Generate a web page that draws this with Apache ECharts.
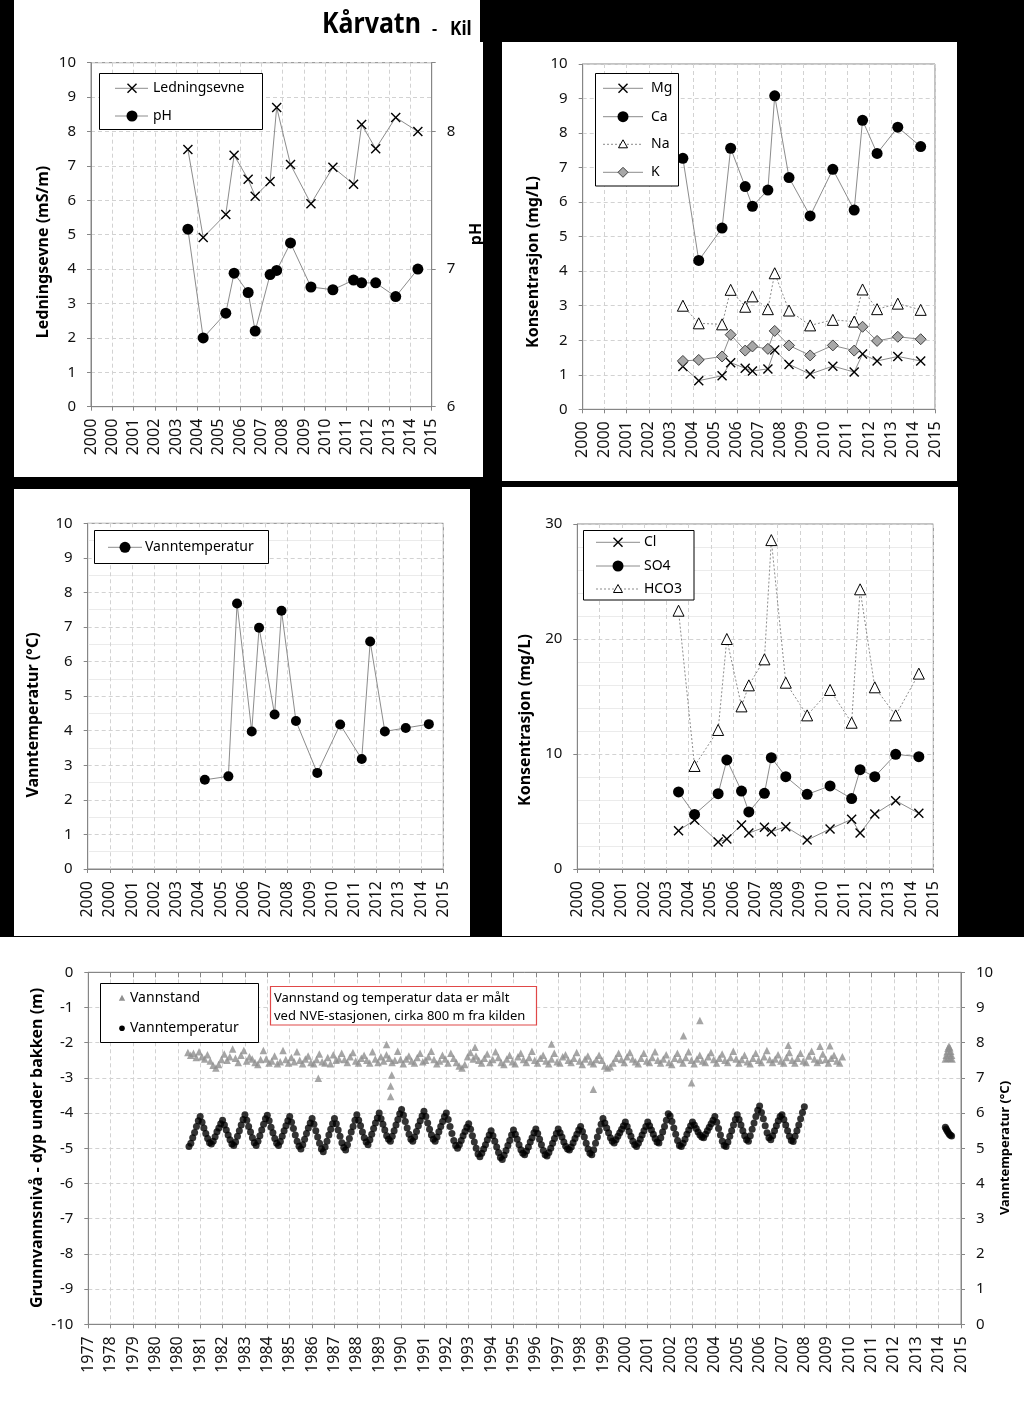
<!DOCTYPE html>
<html><head><meta charset="utf-8">
<script src="https://cdn.jsdelivr.net/npm/echarts@6/dist/echarts.min.js"></script>
<style>html,body{margin:0;padding:0;background:#000;}#c{width:1024px;height:1405px;}</style>
</head><body><div id="c"></div>
<script>
// ---------- tick labels ----------
const smallTicks = ['2000','2000','2001','2002','2003','2004','2005','2006','2007','2008','2009','2010','2011','2012','2013','2014','2015'];
const bigTicks = ['1977','1978','1979','1980','1980','1981','1982','1983','1984','1985','1986','1987','1988','1989','1990','1991','1992','1993','1994','1995','1996','1997','1998','1999','2000','2001','2002','2003','2004','2005','2006','2007','2008','2009','2010','2011','2012','2013','2014','2015'];

// ---------- sample chemistry (shared sampling dates, decimal years) ----------
const sampleDates = [2004.55,2005.27,2006.33,2006.72,2007.38,2007.71,2008.41,2008.72,2009.37,2010.33,2011.36,2012.33,2012.71,2013.37,2014.31,2015.35];
const ledningsevne = [7.48,4.92,5.59,7.31,6.61,6.12,6.55,8.70,7.04,5.90,6.96,6.47,8.20,7.50,8.41,8.00];
const pH = [7.29,6.50,6.68,6.97,6.83,6.55,6.96,6.99,7.19,6.87,6.85,6.92,6.90,6.90,6.80,7.00];
const mg = [1.24,0.83,0.97,1.35,1.19,1.11,1.17,1.72,1.30,1.02,1.25,1.08,1.60,1.40,1.53,1.40];
const ca = [7.27,4.31,5.25,7.56,6.45,5.88,6.35,9.08,6.71,5.60,6.95,5.77,8.37,7.41,8.17,7.61];
const na = [3.00,2.49,2.46,3.46,2.97,3.27,2.90,3.94,2.86,2.43,2.59,2.54,3.47,2.90,3.06,2.88];
const k  = [1.40,1.43,1.53,2.16,1.70,1.82,1.75,2.27,1.85,1.56,1.85,1.70,2.39,1.98,2.10,2.03];
const sampleTemp = [null,2.58,2.68,7.68,3.98,6.98,4.47,7.47,4.28,2.78,4.18,3.18,6.58,3.98,4.08,4.19];
const cl   = [3.33,4.26,2.35,2.61,3.83,3.13,3.62,3.25,3.68,2.52,3.48,4.32,3.13,4.78,5.94,4.84];
const so4  = [6.70,4.75,6.55,9.48,6.78,4.96,6.58,9.68,8.03,6.49,7.22,6.12,8.64,8.03,9.97,9.77];
const hco3 = [22.46,8.96,12.09,20.00,14.14,15.97,18.23,28.60,16.20,13.36,15.57,12.72,24.32,15.80,13.36,16.99];

// ---------- NVE station: groundwater level (m), 8 readings per year from 1981.45 ----------
const levelStart = 1981.45, levelStep = 0.125;
const levelRows = [
 [-2.28,-2.36,-2.30,-2.42,-2.26,-2.40,-2.46,-2.34],
 [-2.52,-2.64,-2.72,-2.62,-2.48,-2.32,-2.50,-2.40],
 [-2.18,-2.44,-2.56,-2.36,-2.22,-2.52,-2.40,-2.46],
 [-2.56,-2.62,-2.48,-2.22,-2.46,-2.58,-2.52,-2.38],
 [-2.60,-2.54,-2.22,-2.48,-2.58,-2.42,-2.54,-2.26],
 [-2.50,-2.60,-2.46,-2.38,-2.56,-2.60,-2.48,-2.32],
 [-2.54,-2.58,-2.42,-2.60,-2.34,-2.50,-2.46,-2.30],
 [-2.48,-2.56,-2.40,-2.28,-2.52,-2.58,-2.44,-2.36],
 [-2.50,-2.58,-2.26,-2.46,-2.56,-2.40,-2.52,-2.34],
 [-2.44,-2.56,-2.50,-2.24,-2.48,-2.60,-2.46,-2.38],
 [-2.52,-2.58,-2.42,-2.30,-2.54,-2.50,-2.40,-2.24],
 [-2.48,-2.60,-2.52,-2.36,-2.46,-2.58,-2.30,-2.44],
 [-2.56,-2.66,-2.72,-2.62,-2.40,-2.28,-2.46,-2.38],
 [-2.50,-2.58,-2.44,-2.32,-2.56,-2.48,-2.26,-2.42],
 [-2.56,-2.62,-2.46,-2.36,-2.54,-2.60,-2.40,-2.30],
 [-2.48,-2.56,-2.42,-2.24,-2.50,-2.58,-2.44,-2.36],
 [-2.52,-2.60,-2.46,-2.30,-2.54,-2.58,-2.40,-2.34],
 [-2.50,-2.56,-2.44,-2.28,-2.52,-2.62,-2.46,-2.38],
 [-2.54,-2.60,-2.48,-2.36,-2.50,-2.66,-2.72,-2.68],
 [-2.58,-2.44,-2.30,-2.48,-2.56,-2.40,-2.28,-2.46],
 [-2.54,-2.60,-2.44,-2.30,-2.52,-2.56,-2.42,-2.26],
 [-2.50,-2.58,-2.46,-2.34,-2.56,-2.62,-2.44,-2.30],
 [-2.48,-2.58,-2.42,-2.26,-2.50,-2.60,-2.46,-2.36],
 [-2.52,-2.56,-2.40,-2.28,-2.48,-2.58,-2.44,-2.32],
 [-2.50,-2.56,-2.42,-2.24,-2.46,-2.58,-2.48,-2.36],
 [-2.54,-2.60,-2.44,-2.30,-2.50,-2.56,-2.40,-2.22],
 [-2.48,-2.56,-2.46,-2.34,-2.52,-2.58,-2.42,-2.28],
 [-2.50,-2.58,-2.44,-2.30,-2.52,-2.56,-2.38,-2.24],
 [-2.46,-2.56,-2.50,-2.32,-2.48,-2.58,-2.44,-2.36],
 [-2.52,-2.58,-2.40]
];
const levelExtra = [[1987.28,-3.01],[1990.33,-2.05],[1990.56,-2.92],[1990.51,-3.23],[1990.51,-3.53],[1994.28,-2.13],[1997.70,-2.04],[1999.57,-3.32],[2003.60,-1.80],[2003.96,-3.14],[2004.33,-1.37],[2008.28,-2.07],[2009.70,-2.10],[2010.14,-2.09],
 [2015.30,-2.46],[2015.34,-2.36],[2015.38,-2.26],[2015.42,-2.16],[2015.46,-2.10],[2015.50,-2.14],[2015.54,-2.24],[2015.58,-2.36],[2015.60,-2.46],[2015.40,-2.44],[2015.48,-2.30],[2015.52,-2.44]];

// ---------- NVE station: water temperature (°C), monthly from 1981.5 ----------
const tempStart = 1981.5, tempStep = 1/12;
const tempRows = [
 [5.05,5.14,5.30,5.45,5.62,5.78,5.90,5.74,5.58,5.42,5.28,5.16],
 [5.12,5.20,5.33,5.47,5.58,5.70,5.80,5.66,5.52,5.38,5.24,5.12],
 [5.08,5.18,5.34,5.50,5.66,5.82,5.95,5.80,5.62,5.46,5.30,5.16],
 [5.08,5.20,5.36,5.52,5.68,5.84,5.94,5.78,5.60,5.44,5.28,5.14],
 [5.08,5.19,5.34,5.50,5.64,5.78,5.90,5.74,5.56,5.38,5.20,5.06],
 [4.98,5.10,5.26,5.42,5.58,5.72,5.85,5.68,5.50,5.32,5.14,4.98],
 [4.90,5.04,5.20,5.38,5.54,5.70,5.85,5.70,5.52,5.34,5.16,5.02],
 [4.95,5.10,5.28,5.46,5.62,5.80,5.95,5.80,5.64,5.46,5.30,5.18],
 [5.10,5.24,5.40,5.56,5.72,5.86,6.00,5.84,5.68,5.52,5.36,5.26],
 [5.20,5.34,5.50,5.66,5.82,5.98,6.10,5.94,5.76,5.58,5.40,5.26],
 [5.20,5.32,5.48,5.64,5.78,5.92,6.05,5.90,5.72,5.54,5.38,5.26],
 [5.20,5.32,5.47,5.62,5.76,5.90,6.00,5.82,5.62,5.42,5.22,5.08],
 [5.00,5.10,5.22,5.36,5.48,5.60,5.70,5.54,5.36,5.18,5.00,4.84],
 [4.76,4.86,4.98,5.10,5.24,5.38,5.50,5.36,5.20,5.04,4.88,4.74],
 [4.68,4.80,4.94,5.08,5.22,5.38,5.52,5.40,5.26,5.10,4.96,4.86],
 [4.82,4.92,5.04,5.18,5.30,5.44,5.55,5.42,5.26,5.10,4.94,4.82],
 [4.78,4.88,5.00,5.14,5.28,5.42,5.55,5.44,5.32,5.18,5.06,4.98],
 [4.95,5.04,5.16,5.28,5.40,5.52,5.62,5.48,5.32,5.14,4.98,4.86],
 [4.82,4.96,5.14,5.32,5.50,5.68,5.85,5.72,5.58,5.44,5.30,5.20],
 [5.15,5.24,5.34,5.44,5.54,5.64,5.75,5.62,5.48,5.34,5.20,5.10],
 [5.05,5.14,5.26,5.38,5.50,5.62,5.75,5.64,5.52,5.40,5.28,5.18],
 [5.15,5.30,5.46,5.62,5.80,5.98,5.92,5.76,5.58,5.40,5.22,5.08],
 [5.05,5.14,5.26,5.40,5.52,5.64,5.75,5.66,5.56,5.46,5.38,5.32],
 [5.30,5.40,5.50,5.60,5.70,5.80,5.90,5.74,5.56,5.38,5.20,5.08],
 [5.05,5.18,5.34,5.50,5.66,5.82,5.95,5.82,5.66,5.50,5.36,5.24],
 [5.20,5.36,5.54,5.72,5.90,6.08,6.20,6.02,5.84,5.64,5.44,5.30],
 [5.24,5.36,5.50,5.64,5.78,5.90,5.95,5.82,5.66,5.50,5.34,5.22],
 [5.19,5.34,5.50,5.66,5.84,6.02,6.18]
];
const tempExtra = [[2015.30,5.60],[2015.34,5.55],[2015.38,5.50],[2015.43,5.45],[2015.48,5.40],[2015.53,5.37],[2015.58,5.35]];

// ---------- build data ----------
function pairs(dates, vals){ const o=[]; vals.forEach((v,i)=>{ if(v!=null) o.push([dates[i], v]); }); return o; }
function series1(start, step, rows){ const flat=[].concat(...rows); return flat.map((v,i)=>[start+i*step, v]); }
const levelData = series1(levelStart, levelStep, levelRows).concat(levelExtra);
const tempData = series1(tempStart, tempStep, tempRows).concat(tempExtra);

const FONT = '"Noto Sans", "Open Sans", sans-serif';
const AX = '#868686';
const gridLine = {show:true, lineStyle:{color:'#d2d2d2', type:[4,3], width:1}};
const minorLine = {show:true, lineStyle:{color:'#ebebeb', width:1}};
const CROSS = 'path://M0,1L1,0L5,4L9,0L10,1L6,5L10,9L9,10L5,6L1,10L0,9L4,5Z';

function xAx(gi, min, max, labels, extra){
  return Object.assign({
    type:'value', gridIndex:gi, min, max, interval:1,
    axisLine:{show:true, onZero:false, lineStyle:{color:AX, width:1}},
    axisTick:{show:true, inside:false, length:4, lineStyle:{color:AX}},
    axisLabel:{show:true, rotate:90, margin:12, fontSize:16, color:'#111', fontFamily:FONT,
      formatter:(v)=>{ const s = labels[Math.round(v-min)]; return s===undefined?'':s; }},
    splitLine:gridLine
  }, extra||{});
}
function yAx(gi, min, max, interval, pos, extra){
  return Object.assign({
    type:'value', gridIndex:gi, min, max, interval, position:pos,
    axisLine:{show:true, onZero:false, lineStyle:{color:AX, width:1}},
    axisTick:{show:true, inside:false, length:4, lineStyle:{color:AX}},
    axisLabel:{show:true, margin:15, fontSize:15, color:'#111', fontFamily:FONT},
    splitLine:gridLine
  }, extra||{});
}
function grid(left, top, width, height){
  return {left, top, width, height, containLabel:false, outerBoundsMode:'none', show:true, borderColor:AX, borderWidth:1, backgroundColor:'transparent'};
}
function lineS(name, xi, yi, data, symbol, size, itemStyle, dashed){
  return {name, type:'line', xAxisIndex:xi, yAxisIndex:yi, data, symbol, symbolSize:size,
    itemStyle, lineStyle:{color:'#8c8c8c', width:1, type: dashed?[2,2]:'solid'},
    silent:true, animation:false, emphasis:{disabled:true}, z:3};
}
const BLACKDOT = {color:'#000', borderWidth:0};
const XS = {color:'#000', borderWidth:0};
const OPENTRI = {color:'#fff', borderColor:'#000', borderWidth:1};
const DIAM = {color:'#a8a8a8', borderColor:'#404040', borderWidth:1};

// ---------- graphic: panels, titles, legends ----------
const G = [];
function rect(x,y,w,h,style,z){ G.push({type:'rect', shape:{x,y,width:w,height:h}, style, z:(z===undefined?-1:z), silent:true}); }
function text(x,y,t,font,opt){ opt=opt||{}; G.push(Object.assign({type:'text', x, y, silent:true, z:5,
  style:{text:t, font, fill:opt.fill||'#000', align:opt.align||'left', verticalAlign:'middle', textAlign:opt.align||'left', textVerticalAlign:'middle'}}, opt.rot?{rotation:opt.rot}:{} , opt.scaleX?{scaleX:opt.scaleX}:{})); }
function vtitle(x,y,t,size){ text(x,y,t,'bold '+size+'px '+FONT,{align:'center', rot:Math.PI/2}); }
function line(x1,y1,x2,y2,stroke,w,dash){ G.push({type:'line', shape:{x1,y1,x2,y2}, style:{stroke, lineWidth:w, lineDash:dash||null}, z:5, silent:true}); }
function mark(kind, cx, cy){
  if(kind==='cross'){ line(cx-4.5,cy-4.5,cx+4.5,cy+4.5,'#000',1.4); line(cx-4.5,cy+4.5,cx+4.5,cy-4.5,'#000',1.4); }
  else if(kind==='dot'){ G.push({type:'circle', shape:{cx,cy,r:5.5}, style:{fill:'#000'}, z:6, silent:true}); }
  else if(kind==='smalldot'){ G.push({type:'circle', shape:{cx,cy,r:2.8}, style:{fill:'#000'}, z:6, silent:true}); }
  else if(kind==='tri'){ G.push({type:'polygon', shape:{points:[[cx,cy-4.5],[cx+4.5,cy+3.5],[cx-4.5,cy+3.5]]}, style:{fill:'#fff', stroke:'#000', lineWidth:1}, z:6, silent:true}); }
  else if(kind==='graytri'){ G.push({type:'polygon', shape:{points:[[cx,cy-3.5],[cx+3.2,cy+2.5],[cx-3.2,cy+2.5]]}, style:{fill:'#909090'}, z:6, silent:true}); }
  else if(kind==='diamond'){ G.push({type:'polygon', shape:{points:[[cx,cy-5],[cx+5,cy],[cx,cy+5],[cx-5,cy]]}, style:{fill:'#a8a8a8', stroke:'#404040', lineWidth:1}, z:6, silent:true}); }
}
function legend(box, items, lx1, lx2, sx, tx, fs){
  rect(box[0], box[1], box[2], box[3], {fill:'#fff', stroke:'#000', lineWidth:1}, 4);
  items.forEach(it=>{
    if(lx1!==null) line(lx1, it.y, lx2, it.y, '#8c8c8c', 1, it.dash?[2,2]:null);
    mark(it.kind, sx, it.y);
    text(tx, it.y, it.name, fs+'px '+FONT);
  });
}

// white panels on black page
rect(14,0,469,477,{fill:'#fff'});
rect(480,0,544,42,{fill:'#000'},0);
rect(502,42,455,439,{fill:'#fff'});
rect(14,489,456,447,{fill:'#fff'});
rect(502,487,456,449,{fill:'#fff'});
rect(0,937,1024,468,{fill:'#fff'});

// title
text(322,25,'Kårvatn','bold 29px '+FONT,{scaleX:0.86});
text(432,29,'-','bold 16px '+FONT);
text(450,29,'Kil','bold 20px '+FONT,{scaleX:0.86});

// axis titles
vtitle(43,252,'Ledningsevne (mS/m)',16);
vtitle(476,234,'pH',16);
vtitle(533,262,'Konsentrasjon (mg/L)',16);
vtitle(33,715,'Vanntemperatur (°C)',16);
vtitle(525,720,'Konsentrasjon (mg/L)',16);
vtitle(37,1148,'Grunnvannsnivå - dyp under bakken (m)',16);
vtitle(1005,1148,'Vanntemperatur (°C)',13);

// legends
legend([99.5,73.5,163,56],[{y:88.3,kind:'cross',name:'Ledningsevne'},{y:116,kind:'dot',name:'pH'}],115,148,132,153,14);
legend([595.5,73.5,83,112.5],[{y:88.3,kind:'cross',name:'Mg'},{y:116.7,kind:'dot',name:'Ca'},{y:144.3,kind:'tri',name:'Na',dash:true},{y:172.3,kind:'diamond',name:'K'}],603,643,623,651,14);
legend([94.5,530.5,174,33],[{y:547.3,kind:'dot',name:'Vanntemperatur'}],108,142,125,145,14);
legend([583.5,530.5,110.5,69.5],[{y:542.3,kind:'cross',name:'Cl'},{y:566,kind:'dot',name:'SO4'},{y:589,kind:'tri',name:'HCO3',dash:true}],596,640,618,644,14);
legend([100.5,983.5,158,59],[{y:998.3,kind:'graytri',name:'Vannstand'},{y:1028.3,kind:'smalldot',name:'Vanntemperatur'}],null,null,122,130,14);

// annotation box
rect(270.5,986.5,266,38.5,{fill:'#fff', stroke:'#e04848', lineWidth:1.2},4);
text(274,998.5,'Vannstand og temperatur data er målt','13px '+FONT);
text(274,1016.5,'ved NVE-stasjonen, cirka 800 m fra kilden','13px '+FONT);

const option = {
  backgroundColor:'transparent',
  animation:false,
  textStyle:{fontFamily:FONT},
  grid:[
    grid(91,62.7,340.7,344),
    grid(582.7,64,352.3,345.3),
    grid(87.7,523.3,355.6,345.7),
    grid(577.3,524,356,345),
    grid(88.3,972.3,872.7,352)
  ],
  xAxis:[
    xAx(0,2000,2016,smallTicks),
    xAx(1,2000,2016,smallTicks),
    xAx(2,2000,2016,smallTicks),
    xAx(3,2000,2016,smallTicks),
    xAx(4,1977,2016,bigTicks),
    xAx(4,1977,2016,bigTicks,{position:'top', axisLabel:{show:false}, splitLine:{show:false}, axisTick:{show:true, inside:true, length:5, lineStyle:{color:AX}}})
  ],
  yAxis:[
    yAx(0,0,10,1,'left'),
    yAx(0,6,8.5,1,'right',{splitLine:{show:false}, axisLabel:{show:true, margin:15, fontSize:15, color:'#111', fontFamily:FONT, formatter:(v)=> (Math.abs(v-Math.round(v))<1e-6 ? String(v) : '')}}),
    yAx(1,0,10,1,'left'),
    yAx(2,0,10,1,'left',{minorTick:{show:false, splitNumber:2}, minorSplitLine:minorLine}),
    yAx(3,0,30,10,'left',{minorTick:{show:false, splitNumber:5}, minorSplitLine:minorLine}),
    yAx(4,-10,0,1,'left'),
    yAx(4,0,10,1,'right',{splitLine:{show:false}})
  ],
  series:[
    lineS('Ledningsevne',0,0,pairs(sampleDates,ledningsevne),CROSS,10,XS),
    lineS('pH',0,1,pairs(sampleDates,pH),'circle',11,BLACKDOT),
    lineS('Mg',1,2,pairs(sampleDates,mg),CROSS,10,XS),
    lineS('Ca',1,2,pairs(sampleDates,ca),'circle',11,BLACKDOT),
    lineS('Na',1,2,pairs(sampleDates,na),'triangle',11,OPENTRI,true),
    lineS('K',1,2,pairs(sampleDates,k),'diamond',[11,11],DIAM),
    lineS('Vanntemperatur',2,3,pairs(sampleDates,sampleTemp),'circle',10,BLACKDOT),
    lineS('Cl',3,4,pairs(sampleDates,cl),CROSS,10,XS),
    lineS('SO4',3,4,pairs(sampleDates,so4),'circle',11,BLACKDOT),
    lineS('HCO3',3,4,pairs(sampleDates,hco3),'triangle',11,OPENTRI,true),
    {name:'Vannstand', type:'scatter', xAxisIndex:4, yAxisIndex:5, data:levelData, symbol:'triangle', symbolSize:7.5,
      itemStyle:{color:'#8f8f8f'}, silent:true, animation:false, z:3},
    {name:'Vanntemperatur (NVE)', type:'scatter', xAxisIndex:4, yAxisIndex:6, data:tempData, symbol:'circle', symbolSize:7,
      itemStyle:{color:'#000'}, silent:true, animation:false, z:3}
  ],
  graphic:{elements:G}
};
const chart = echarts.init(document.getElementById('c'), null, {renderer:'canvas'});
chart.setOption(option);
</script></body></html>
